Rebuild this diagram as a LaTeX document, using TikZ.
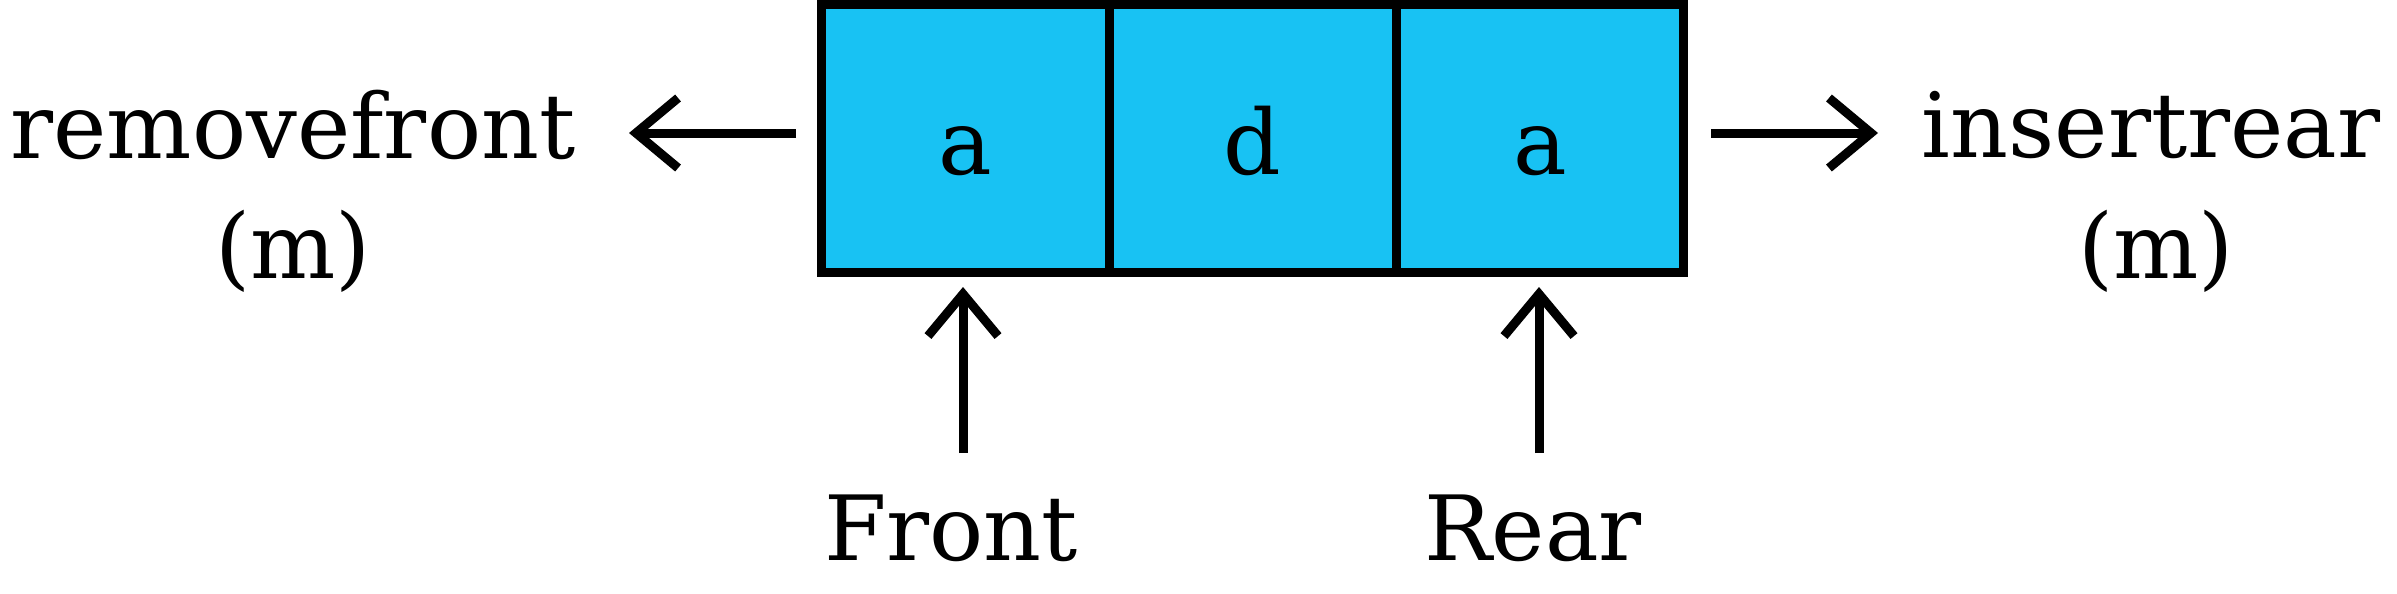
\documentclass[tikz,border=0pt]{standalone}
\usepackage{fontspec}
\setmainfont{DejaVu Serif}
\usepackage{xcolor}
\usepackage{tikz}
\usetikzlibrary{arrows.meta}
\usetikzlibrary{positioning}
\definecolor{cellblue}{RGB}{24,194,243}

\begin{document}
\begin{tikzpicture}[x=0.01cm,y=-0.01cm,node distance=0pt,line width=0.09cm]
 		\tikzstyle{cell}=[draw, rectangle, fill=cellblue, minimum width=2.87cm, minimum height=2.68cm, outer sep=0pt, inner sep=0pt, text height=0.72cm, text depth=0pt, font=\fontsize{25.6}{30}\selectfont]
 		\tikzstyle{lbl}=[anchor=base, inner sep=0pt, font=\fontsize{25.6}{30}\selectfont]
 		\tikzstyle{arr}=[-{Straight Barb[length=0.42cm,width=0.70cm,sharp]}]
		\useasboundingbox (0,0) rectangle (2397,593);
			\node[cell]  (c1) at (965.5,138.5) {a};
			\node[cell]  (c2) [right=of c1] {d};
			\node[cell]  (c3) [right=of c2] {a};
			% labels
			\node[lbl]  (remove) at (293,158) {removefront};
			\node[lbl]  (removem) at (293,278) {(m)};
			\node[lbl]  (insert) at (2151,157) {insertrear};
			\node[lbl]  (insertm) at (2156,278) {(m)};
			\node[lbl]  (front) at (951,560) {Front};
			\node[lbl]  (rear) at (1533,560) {Rear};
			% arrow ends
			\coordinate (removeA) at (796,133);
			\coordinate (removeB) at (629,133);
			\coordinate (insertA) at (1711,133);
			\coordinate (insertB) at (1878,133);
			\coordinate (frontA) at (963,453);
			\coordinate (frontB) at (963,287);
			\coordinate (rearA) at (1539,453);
			\coordinate (rearB) at (1539,287);
			\draw[arr] (removeA) -- (removeB);
			\draw[arr] (insertA) -- (insertB);
			\draw[arr] (frontA) -- (frontB);
			\draw[arr] (rearA) -- (rearB);
 	\end{tikzpicture}
\end{document}
